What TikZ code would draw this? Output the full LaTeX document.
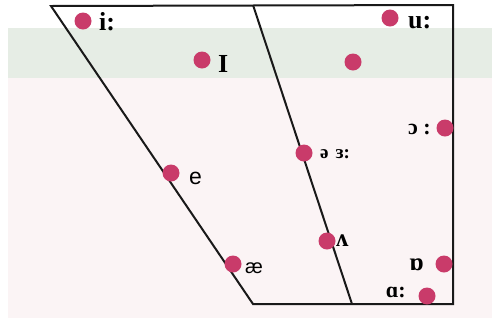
\documentclass[tikz,border=0pt]{standalone}
\usepackage{fontspec}
\setmainfont{Liberation Serif}
\newfontfamily\lsans{Liberation Sans}
\definecolor{dotc}{HTML}{C93B6A}
\definecolor{bgpink}{HTML}{FBF4F5}
\definecolor{bggreen}{HTML}{E6EDE5}
\newcommand{\fsz}[1]{\fontsize{#1}{#1}\selectfont}
\begin{document}
\begin{tikzpicture}[x=1pt,y=-1pt,
  vdot/.style={circle,fill=dotc,minimum size=17pt,inner sep=0pt},
  lab/.style={inner sep=0pt,anchor=base west,font=\fsz{26}\bfseries},
  rlab/.style={inner sep=0pt,anchor=base east,font=\fsz{22}\bfseries},
  edge/.style={line width=2pt,black!90}]
\useasboundingbox (0,0) rectangle (492,325);
\fill[white] (0,0) rectangle (492,325);
\fill[bgpink] (8,78) rectangle (492,318);
\fill[bggreen] (8,28) rectangle (492,78);
% frame
\coordinate (TL) at (51,6);
\coordinate (TM) at (253,5);
\coordinate (TR) at (453,5);
\coordinate (BR) at (453,304);
\coordinate (BM) at (352,304);
\coordinate (BL) at (253,304);
\draw[edge,line join=miter] (TL) -- (TR) -- (BR) -- (BL) -- cycle;
\draw[edge] (TM) -- (BM);
% dots
\node[vdot] (di) at (83,21) {};
\node[vdot] (dI) at (202,60) {};
\node[vdot] (du) at (390,18) {};
\node[vdot] (dU) at (353,62) {};
\node[vdot] (do) at (445,128) {};
\node[vdot] (dschwa) at (304,153) {};
\node[vdot] (de) at (171,173) {};
\node[vdot] (dae) at (233,264) {};
\node[vdot] (dv) at (327,241) {};
\node[vdot] (dop) at (444,264) {};
\node[vdot] (da) at (427,296) {};
% labels
\node[lab] (li) at (99,30) {i:};
\node[lab] (lI) at (218,72) {I};
\node[lab] (lu) at (408,28) {u:};
\node[rlab] (lo) at (431,134) {ɔ :};
\node[lab,font=\fsz{19}\bfseries] (lschwa) at (320,158) {ə\hspace{7pt}ɜ:};
\node[lab,font=\lsans\fsz{23}] (le) at (189,184) {e};
\node[lab,font=\lsans\fsz{20}] (lae) at (245,273) {æ};
\node[lab,font=\fsz{25}\bfseries] (lv) at (336,246) {ʌ};
\node[rlab,font=\fsz{25}\bfseries] (lop) at (424,270) {ɒ};
\node[rlab] (la) at (406,297) {ɑ:};
\end{tikzpicture}
\end{document}
